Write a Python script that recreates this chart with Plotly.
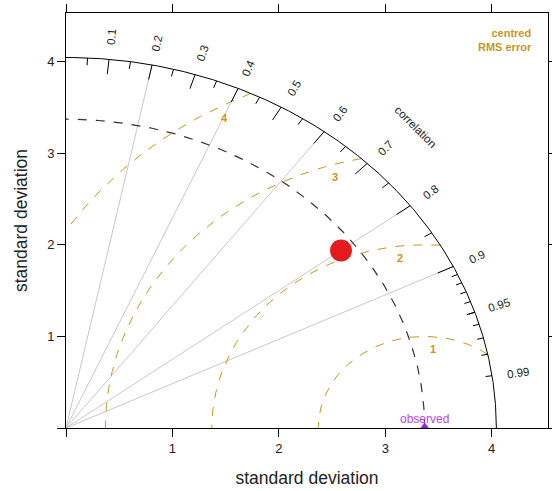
import numpy as np
import plotly.graph_objects as go

# observed and model statistics
sd_obs = 3.37
sd_model = 3.23
cor_model = 0.80

# centred RMS error contours
rms_levels = [1, 2, 3, 4]
rms_label_angles = [85, 97, 107, 119]  # degrees, around the observed point

# correlation grid
cor_lines = [0.2, 0.4, 0.6, 0.8, 0.9]
cor_major = [0.1, 0.2, 0.3, 0.4, 0.5, 0.6, 0.7, 0.8, 0.9]
cor_medium = [0.05, 0.15, 0.25, 0.35, 0.45, 0.55, 0.65, 0.75, 0.85, 0.95]
cor_minor = [0.91, 0.92, 0.93, 0.94, 0.95, 0.96, 0.97, 0.98, 0.99]
cor_labels = ["0.1", "0.2", "0.3", "0.4", "0.5", "0.6", "0.7", "0.8", "0.9", "0.95", "0.99"]

sd_ticks = [0, 1, 2, 3, 4]
sd_tick_text = ["", "1", "2", "3", "4"]

FONT = "Liberation Sans, Arial, sans-serif"
RMS_COL = "#C8961E"
OBS_COL = "#A020F0"

maxsd = 1.2 * max(sd_obs, sd_model)
lim = 1.12 * maxsd

fig = go.Figure()

# correlation rays
xs, ys = [], []
for c in cor_lines:
  a = np.arccos(c)
  xs += [0, maxsd * np.cos(a), None]
  ys += [0, maxsd * np.sin(a), None]
fig.add_trace(go.Scatter(x=xs, y=ys, mode="lines", line=dict(color="#C8C8C8", width=1), hoverinfo="skip"))

# centred RMS arcs
t = np.linspace(0, np.pi, 3000)
for r in rms_levels:
  x = sd_obs + r * np.cos(t)
  y = r * np.sin(t)
  ok = (x ** 2 + y ** 2 <= maxsd ** 2) & (x >= 0)
  x = np.where(ok, x, np.nan)
  y = np.where(ok, y, np.nan)
  fig.add_trace(go.Scatter(x=x, y=y, mode="lines", line=dict(color=RMS_COL, width=1, dash="dash"), hoverinfo="skip"))

for r, ang in zip(rms_levels, rms_label_angles):
  a = np.radians(ang)
  rr = r - 0.13
  fig.add_annotation(x=sd_obs + rr * np.cos(a), y=rr * np.sin(a), text="<b>%d</b>" % r, showarrow=False,
                     font=dict(family=FONT, size=11, color=RMS_COL))

# observed sd arc and outer arc
q = np.linspace(0, np.pi / 2, 400)
fig.add_trace(go.Scatter(x=sd_obs * np.cos(q), y=sd_obs * np.sin(q), mode="lines",
                         line=dict(color="#333333", width=1.2, dash="dash"), hoverinfo="skip"))
fig.add_trace(go.Scatter(x=maxsd * np.cos(q), y=maxsd * np.sin(q), mode="lines",
                         line=dict(color="black", width=1), hoverinfo="skip"))

# ticks on the outer arc
xs, ys = [], []
for vals, f in [(cor_major, 0.96), (cor_medium, 0.98), (cor_minor, 0.985)]:
  for c in vals:
    a = np.arccos(c)
    xs += [maxsd * np.cos(a), f * maxsd * np.cos(a), None]
    ys += [maxsd * np.sin(a), f * maxsd * np.sin(a), None]
fig.add_trace(go.Scatter(x=xs, y=ys, mode="lines", line=dict(color="black", width=1), hoverinfo="skip"))

for lab in cor_labels:
  a = np.arccos(float(lab))
  fig.add_annotation(x=1.06 * maxsd * np.cos(a), y=1.06 * maxsd * np.sin(a), text=lab, showarrow=False,
                     textangle=-np.degrees(a), font=dict(family=FONT, size=11.5, color="#222222"))

fig.add_annotation(x=1.15 * maxsd * np.cos(np.pi / 4), y=1.15 * maxsd * np.sin(np.pi / 4), text="correlation",
                   showarrow=False, textangle=45, font=dict(family=FONT, size=11.5, color="#222222"))

# observed point
fig.add_trace(go.Scatter(x=[sd_obs], y=[0], mode="markers", marker=dict(symbol="triangle-up", size=11, color=OBS_COL),
                         hoverinfo="skip"))
fig.add_annotation(x=sd_obs, y=0, yshift=9, text="observed", showarrow=False,
                   font=dict(family=FONT, size=12, color="#B846F0"))

# model point
ang = np.arccos(cor_model)
fig.add_trace(go.Scatter(x=[sd_model * np.cos(ang)], y=[sd_model * np.sin(ang)], mode="markers",
                         marker=dict(size=22, color="#E41A1C"), hoverinfo="skip"))

fig.add_annotation(xref="paper", yref="paper", x=0.97, y=0.935, xanchor="right", yanchor="middle", align="right",
                   text="<b>centred</b><br><b>RMS error</b>", showarrow=False,
                   font=dict(family=FONT, size=11, color=RMS_COL))

axis = dict(range=[0, lim], tickvals=sd_ticks, ticktext=sd_tick_text, showgrid=False, zeroline=False,
            showline=True, linecolor="black", linewidth=1, mirror="ticks", ticks="outside", ticklen=8,
            tickcolor="black", tickfont=dict(family=FONT, size=13, color="#222222"), automargin=False)

fig.update_layout(
  width=552, height=491,
  margin=dict(l=66, r=4, t=13, b=63),
  paper_bgcolor="white", plot_bgcolor="white",
  showlegend=False,
  xaxis=dict(axis, title=dict(text="standard deviation", font=dict(family=FONT, size=17.5, color="#222222"), standoff=17)),
  yaxis=dict(axis, title=dict(text="standard deviation", font=dict(family=FONT, size=17.5, color="#222222"), standoff=15)),
)

fig.write_html("out.html", config={"displayModeBar": False}, post_script="document.body.style.margin='0px';")
